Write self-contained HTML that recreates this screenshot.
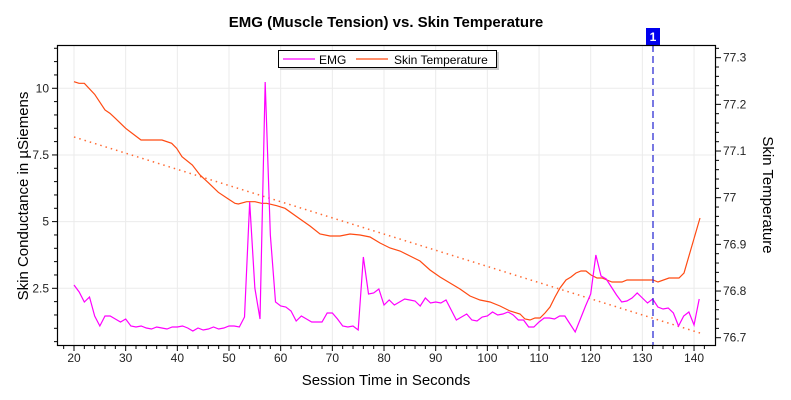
<!DOCTYPE html><html><head><style>body{margin:0;background:#fff}svg{display:block;font-family:"Liberation Sans",sans-serif}</style></head><body>
<svg id="s" width="791" height="400" xmlns="http://www.w3.org/2000/svg">
<text x="386" y="27" text-anchor="middle" font-size="15" font-weight="bold">EMG (Muscle Tension) vs. Skin Temperature</text>
<g id="grid" stroke="#ebebeb" stroke-width="1"></g>
<line x1="74" y1="137" x2="700" y2="333" stroke="#ff6a33" stroke-width="1.5" stroke-dasharray="1.5,4"/>
<polyline id="temp" fill="none" stroke="#ff4a12" stroke-width="1.2"/>
<polyline id="emg" fill="none" stroke="#ff00ff" stroke-width="1.2"/>
<line x1="653" y1="45" x2="653" y2="346" stroke="#2020d0" stroke-width="1.2" stroke-dasharray="7,4"/>
<rect x="646" y="28" width="14" height="17" fill="#0000ee"/>
<text x="653" y="41" text-anchor="middle" font-size="12" font-weight="bold" fill="#fff">1</text>
<rect x="57.5" y="45.5" width="658" height="300" fill="none" stroke="#000" stroke-width="1.2"/>
<g id="ticks" stroke="#000" stroke-width="1"></g>
<g id="labels" font-size="12" fill="#222"></g>
<rect x="280" y="52" width="219" height="18" fill="#ccc"/>
<rect x="278.5" y="50.5" width="218" height="17" fill="#fff" stroke="#000"/>
<line x1="283" y1="59" x2="315" y2="59" stroke="#ff00ff" stroke-width="1.2"/>
<text x="319" y="64" font-size="12">EMG</text>
<line x1="356" y1="59" x2="388" y2="59" stroke="#ff4a12" stroke-width="1.2"/>
<text x="394" y="64" font-size="12">Skin Temperature</text>
<text transform="translate(28,196) rotate(-90)" text-anchor="middle" font-size="15">Skin Conductance in µSiemens</text>
<text transform="translate(763,195) rotate(90)" text-anchor="middle" font-size="15">Skin Temperature</text>
<text x="386" y="385" text-anchor="middle" font-size="15">Session Time in Seconds</text>
</svg>
<script>
var NS="http://www.w3.org/2000/svg";
function el(p,t,a,txt){var e=document.createElementNS(NS,t);for(var k in a)e.setAttribute(k,a[k]);if(txt!==undefined)e.textContent=txt;document.getElementById(p).appendChild(e);}
function X(s){return 74+(s-20)*5.167;}
function YL(v){return 288.3-(v-2.5)*26.67;}
function YR(v){return 337.7-(v-76.7)*466.7;}
for(var s=20;s<=140;s+=10){var x=X(s);el("grid","line",{x1:x,y1:46,x2:x,y2:345});el("labels","text",{x:x,y:362,"text-anchor":"middle"},s);}
[2.5,5,7.5,10].forEach(function(v){var y=YL(v);el("grid","line",{x1:58,y1:y,x2:715,y2:y});el("labels","text",{x:49,y:y+4,"text-anchor":"end"},v);});
for(var s=18;s<=142;s+=2){var x=X(s);el("ticks","line",{x1:x,y1:346,x2:x,y2:s%10==0?351:349});}
for(var v=0.5;v<=11.5;v+=0.5){var y=YL(v);if(y<46||y>345)continue;var maj=Math.abs(v/2.5-Math.round(v/2.5))<1e-6;el("ticks","line",{x1:57,y1:y,x2:maj?52:54,y2:y});}
for(var i=0;i<=32;i++){var v=76.68+i*0.02;var y=YR(v);if(y<46||y>345)continue;var maj=Math.abs(v*10-Math.round(v*10))<1e-6;el("ticks","line",{x1:716,y1:y,x2:maj?721:719,y2:y});}
["76.7","76.8","76.9","77","77.1","77.2","77.3"].forEach(function(t){el("labels","text",{x:723,y:YR(+t)+4},t);});
var emgY=[285,292,302,297,316,326,316,316,319,322,319,326,327,326,328,329,327,328,329,327,327,326,328,331,328,330,329,327,329,328,326,326,327,317,202,288,319,82,235,302,306,307,311,321,316,319,322,322,322,313,313,319,326,327,326,330,257,294,293,289,305,300,305,302,299,300,301,306,298,303,302,303,300,310,320,317,314,320,321,317,316,312,315,314,312,315,320,320,327,327,322,318,318,319,316,316,324,332,319,306,294,255,276,279,287,295,302,301,298,293,298,303,299,307,309,308,313,326,316,312,325,299];
var p=[];for(var i=0;i<emgY.length;i++){var s=20+i;if(s>141)break;p.push(X(s)+","+emgY[i]);}document.getElementById("emg").setAttribute("points",p.join(" "));
var tz=[[222,155],[237,160],[253,160],[284,193],[315,240],[330,250],[346,265],[377,295],[423,330],[486,330],[515,340],[530,355],[546,380],[577,405],[600,435],[625,458],[655,487],[685,507],[705,520],[715,522],[740,515],[765,515],[785,520],[800,520],[830,527],[855,535],[900,567]];
var tp=tz.map(function(a){return (a[0]/3)+","+(30+a[1]/3);});
var tm=[[310,226],[320,234],[330,236],[340,236],[350,234],[360,235],[370,237],[380,243],[390,248],[400,251],[410,256],[420,261],[430,270],[440,277],[450,283],[460,289],[470,296],[480,300],[490,302],[500,306],[510,311],[520,314],[525,319],[530,320],[535,318],[540,318],[545,313],[550,307],[555,297],[560,288],[566,280],[571,277],[576,273],[581,271],[586,271],[591,275],[597,278],[602,278],[607,280],[612,282],[622,282],[627,280],[648,280],[653,280],[658,282],[669,278],[679,278],[684,273],[700,218]];
tm.forEach(function(a){tp.push(a[0]+","+a[1]);});
document.getElementById("temp").setAttribute("points",tp.join(" "));
</script>
</body></html>
